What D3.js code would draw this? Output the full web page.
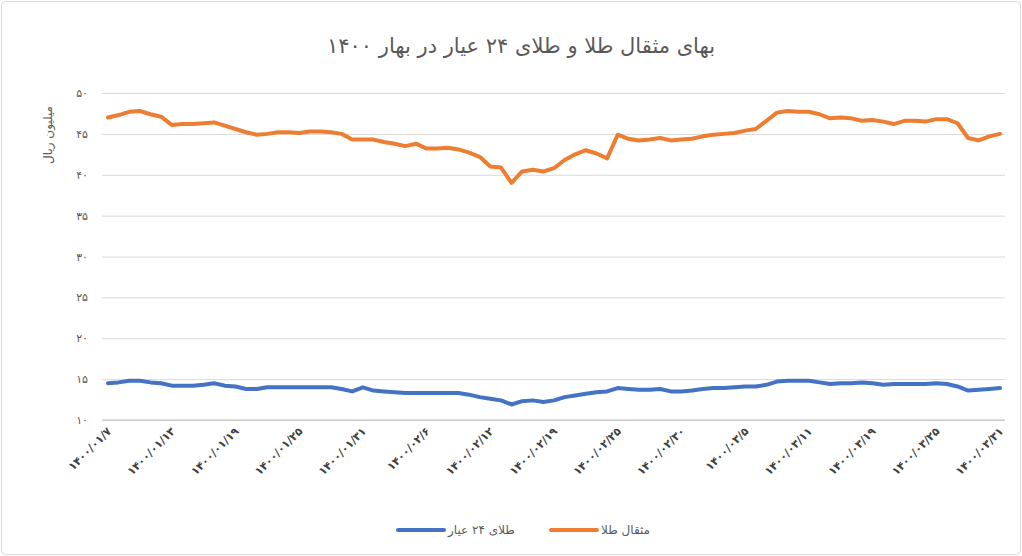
<!DOCTYPE html>
<html>
<head>
<meta charset="utf-8">
<script src="https://cdn.jsdelivr.net/npm/d3@7"></script>
<style>
  body { margin: 0; background: #fff; }
  svg { display: block; }
  text { font-family: "DejaVu Sans", sans-serif; }
</style>
</head>
<body>
<div id="chart"></div>
<script>
// چارت بهای مثقال طلا و طلای ۲۴ عیار
const title = 'بهای مثقال طلا و طلای ۲۴ عیار در بهار ۱۴۰۰';
const yTitle = 'میلیون ریال';
const seriesNames = ['طلای ۲۴ عیار', 'مثقال طلا'];

const tickLabels = [
  '۱۴۰۰/۰۱/۷', '۱۴۰۰/۰۱/۱۳', '۱۴۰۰/۰۱/۱۹', '۱۴۰۰/۰۱/۲۵', '۱۴۰۰/۰۱/۳۱',
  '۱۴۰۰/۰۲/۶', '۱۴۰۰/۰۲/۱۲', '۱۴۰۰/۰۲/۱۹', '۱۴۰۰/۰۲/۲۵', '۱۴۰۰/۰۲/۳۰',
  '۱۴۰۰/۰۳/۵', '۱۴۰۰/۰۳/۱۱', '۱۴۰۰/۰۳/۱۹', '۱۴۰۰/۰۳/۲۵', '۱۴۰۰/۰۳/۳۱'
];
const tickEvery = 6; // one label every 6 points

const yTicks = [10, 15, 20, 25, 30, 35, 40, 45, 50];

// مثقال طلا (million rial)
const mesghal = [
  47.0, 47.3, 47.7, 47.8, 47.4, 47.1, 46.1, 46.2, 46.2, 46.3,
  46.4, 46.0, 45.6, 45.2, 44.9, 45.0, 45.2, 45.2, 45.1, 45.3,
  45.3, 45.2, 45.0, 44.3, 44.3, 44.3, 44.0, 43.8, 43.5, 43.8,
  43.2, 43.2, 43.3, 43.1, 42.7, 42.2, 41.0, 40.9, 39.0, 40.4,
  40.6, 40.4, 40.8, 41.8, 42.5, 43.0, 42.6, 42.0, 44.9, 44.4,
  44.2, 44.3, 44.5, 44.2, 44.3, 44.4, 44.7, 44.9, 45.0, 45.1,
  45.4, 45.6, 46.6, 47.6, 47.8, 47.7, 47.7, 47.4, 46.9, 47.0,
  46.9, 46.6, 46.7, 46.5, 46.2, 46.6, 46.6, 46.5, 46.8, 46.8,
  46.3, 44.5, 44.2, 44.7, 45.0
];

// طلای ۲۴ عیار (million rial)
const gold24 = [
  14.5, 14.6, 14.8, 14.8, 14.6, 14.5, 14.2, 14.2, 14.2, 14.3,
  14.5, 14.2, 14.1, 13.8, 13.8, 14.0, 14.0, 14.0, 14.0, 14.0,
  14.0, 14.0, 13.8, 13.5, 14.0, 13.6, 13.5, 13.4, 13.3, 13.3,
  13.3, 13.3, 13.3, 13.3, 13.1, 12.8, 12.6, 12.4, 11.9, 12.3,
  12.4, 12.2, 12.4, 12.8, 13.0, 13.2, 13.4, 13.5, 13.9, 13.8,
  13.7, 13.7, 13.8, 13.5, 13.5, 13.6, 13.8, 13.9, 13.9, 14.0,
  14.1, 14.1, 14.3, 14.7, 14.8, 14.8, 14.8, 14.6, 14.4, 14.5,
  14.5, 14.6, 14.5, 14.3, 14.4, 14.4, 14.4, 14.4, 14.5, 14.4,
  14.1, 13.6, 13.7, 13.8, 13.9
];

const colors = ['#4472C4', '#ED7D31'];

const width = 1022, height = 556;
const plot = { left: 102, right: 1005, top: 93, bottom: 420 };

const faDigits = '۰۱۲۳۴۵۶۷۸۹';
const toFa = n => String(n).replace(/\d/g, c => faDigits[+c]);

const svg = d3.select('#chart').append('svg')
  .attr('width', width)
  .attr('height', height);

svg.append('rect')
  .attr('x', 1.5).attr('y', 1.5)
  .attr('width', width - 3).attr('height', height - 3)
  .attr('rx', 4)
  .attr('fill', '#fff')
  .attr('stroke', '#d9d9d9');

const x = d3.scaleLinear()
  .domain([0, mesghal.length - 1])
  .range([108, 1000]);

const y = d3.scaleLinear()
  .domain([10, 50])
  .range([plot.bottom, plot.top]);

// grid + y labels
const yAxis = svg.append('g')
  .attr('transform', `translate(${plot.left},0)`)
  .call(d3.axisLeft(y)
    .tickValues(yTicks)
    .tickSize(-(plot.right - plot.left))
    .tickPadding(14)
    .tickFormat(toFa));
yAxis.select('.domain').remove();
yAxis.selectAll('.tick line').attr('stroke', '#d9d9d9').attr('stroke-width', 1);
yAxis.selectAll('.tick text')
  .attr('fill', '#595959')
  .attr('font-size', 11)
  .attr('font-family', '"DejaVu Sans", sans-serif');

// bottom axis line
svg.append('line')
  .attr('x1', plot.left).attr('x2', plot.right)
  .attr('y1', y(10)).attr('y2', y(10))
  .attr('stroke', '#bfbfbf');

// x labels
svg.append('g')
  .selectAll('text')
  .data(tickLabels)
  .enter().append('text')
  .attr('transform', (d, i) => `translate(${x(i * tickEvery) + 4},${plot.bottom + 12}) rotate(-45)`)
  .attr('text-anchor', 'end')
  .attr('direction', 'ltr')
  .attr('font-size', 11)
  .attr('font-weight', 'bold')
  .attr('fill', '#404040')
  .text(d => d);

// lines
const line = d3.line()
  .x((d, i) => x(i))
  .y(d => y(d));

[gold24, mesghal].forEach((s, k) => {
  svg.append('path')
    .datum(s)
    .attr('fill', 'none')
    .attr('stroke', colors[k])
    .attr('stroke-width', 4)
    .attr('stroke-linejoin', 'round')
    .attr('stroke-linecap', 'round')
    .attr('d', line);
});

// title
svg.append('text')
  .attr('x', 521).attr('y', 53)
  .attr('text-anchor', 'middle')
  .attr('font-size', 21)
  .attr('fill', '#595959')
  .text(title);

// y title
svg.append('text')
  .attr('transform', 'translate(52,135) rotate(-90)')
  .attr('text-anchor', 'middle')
  .attr('font-size', 12)
  .attr('fill', '#595959')
  .text(yTitle);

// legend
const legend = svg.append('g');
const legendItems = [
  { name: seriesNames[0], color: colors[0], x0: 398 },
  { name: seriesNames[1], color: colors[1], x0: 551 }
];
legendItems.forEach(it => {
  legend.append('line')
    .attr('x1', it.x0).attr('x2', it.x0 + 46)
    .attr('y1', 530).attr('y2', 530)
    .attr('stroke', it.color)
    .attr('stroke-width', 4)
    .attr('stroke-linecap', 'round');
  legend.append('text')
    .attr('x', it.x0 + 50).attr('y', 534)
    .attr('text-anchor', 'start')
    .attr('font-size', 12)
    .attr('fill', '#595959')
    .text(it.name);
});
</script>
</body>
</html>
